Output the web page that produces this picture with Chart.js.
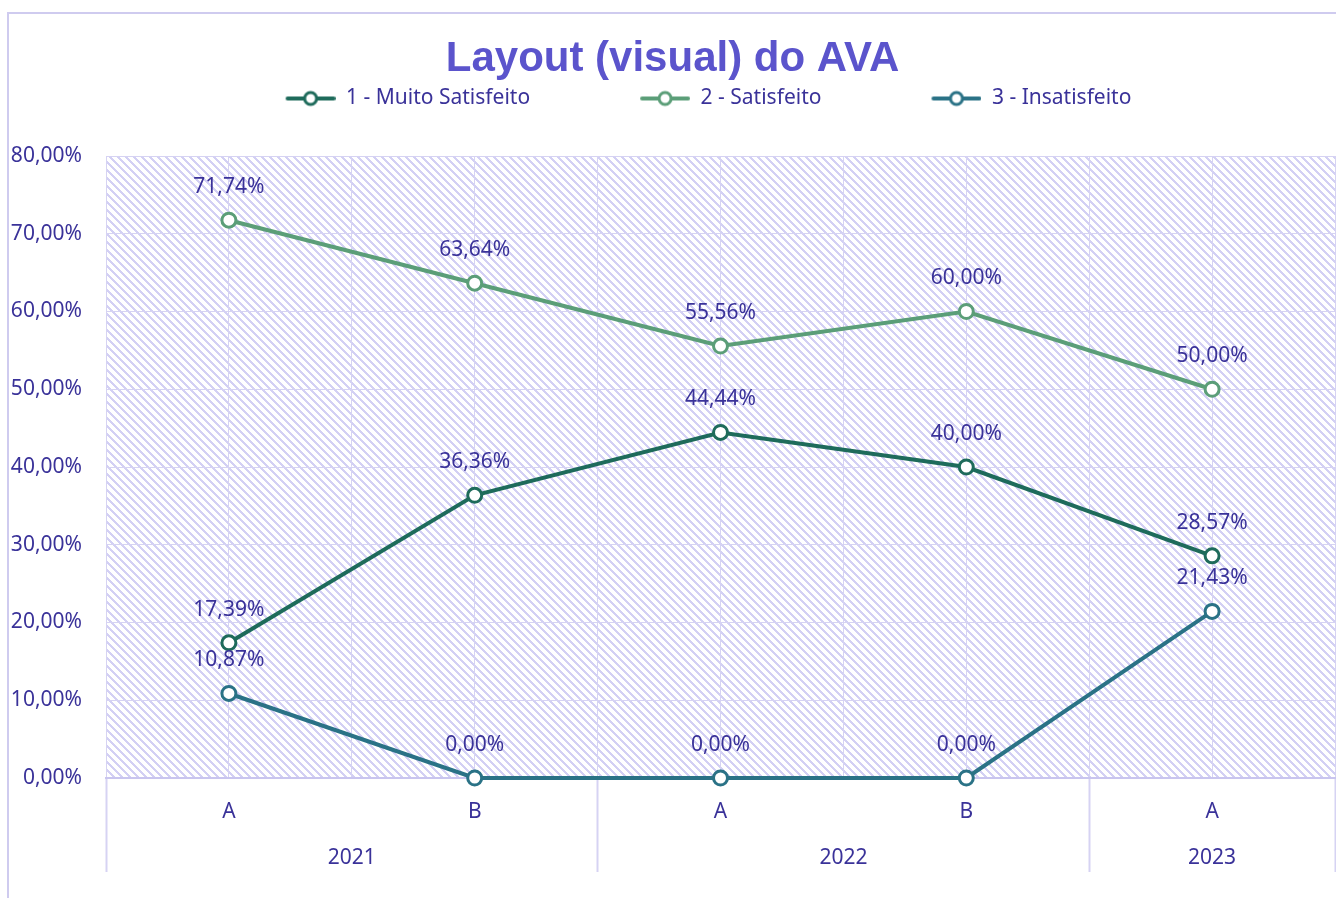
<!DOCTYPE html>
<html>
<head>
<meta charset="utf-8">
<script src="https://cdn.jsdelivr.net/npm/chart.js@4.4.1/dist/chart.umd.min.js"></script>
<style>
  html, body { margin: 0; padding: 0; background: #fff; }
  #wrap { width: 1336px; height: 898px; }
</style>
</head>
<body>
<div id="wrap"><canvas id="chart" width="1336" height="898"></canvas></div>
<script>
// --- data ---
const periods = ["A", "B", "A", "B", "A"];
const years = ["2021", "2022", "2023"];
const yearSpans = [2, 2, 1];

const seriesNames = ["1 - Muito Satisfeito", "2 - Satisfeito", "3 - Insatisfeito"];
const muitoSatisfeito = [17.39, 36.36, 44.44, 40.00, 28.57];
const satisfeito = [71.74, 63.64, 55.56, 60.00, 50.00];
const insatisfeito = [10.87, 0.00, 0.00, 0.00, 21.43];

const yTicks = [0, 10, 20, 30, 40, 50, 60, 70, 80];

const colors = ["#1e6b5b", "#5b9e78", "#2a7286"];
const textColor = "#3a3299";
const gridColor = "#d6d3f3";
const font = "'Noto Sans', sans-serif";

const $ = (id) => document.getElementById(id);

const pct = (v) => v.toFixed(2).replace(".", ",") + "%";

// tick positions on the x axis: category centres and the half steps between them
const halfSteps = [];
for (let i = 0; i <= periods.length; i++) {
  halfSteps.push(i - 0.5);
  if (i < periods.length) halfSteps.push(i);
}

// where the year groups start/end and their centres
const yearEdges = [-0.5];
const yearCenters = [];
yearSpans.forEach((span) => {
  const start = yearEdges[yearEdges.length - 1];
  yearCenters.push(start + span / 2);
  yearEdges.push(start + span);
});

const ICON_W = 122;

function legendIcon(color) {
  const c = document.createElement("canvas");
  c.width = ICON_W;
  c.height = 18;
  const g = c.getContext("2d");
  g.strokeStyle = color;
  g.lineWidth = 4;
  g.lineCap = "round";
  g.beginPath();
  g.moveTo(ICON_W - 48, 9);
  g.lineTo(ICON_W - 2, 9);
  g.stroke();
  g.fillStyle = "#fff";
  g.lineWidth = 3;
  g.beginPath();
  g.arc(ICON_W - 25, 9, 6, 0, Math.PI * 2);
  g.fill();
  g.stroke();
  return c;
}

function hatchPattern(ctx) {
  const c = document.createElement("canvas");
  c.width = 8;
  c.height = 8;
  const g = c.getContext("2d");
  g.fillStyle = "#fff";
  g.fillRect(0, 0, 8, 8);
  g.fillStyle = "#d3d0f4";
  for (let y = 0; y < 8; y++) {
    for (let x = 0; x < 8; x++) {
      if ((((x - y) % 8) + 8) % 8 < 3) g.fillRect(x, y, 1, 1);
    }
  }
  return ctx.createPattern(c, "repeat");
}

const background = {
  id: "background",
  beforeDraw(chart) {
    const { ctx, chartArea: a } = chart;
    ctx.save();
    ctx.fillStyle = "#fff";
    ctx.fillRect(0, 0, chart.width, chart.height);
    ctx.strokeStyle = "#cfcbef";
    ctx.lineWidth = 2;
    ctx.strokeRect(8, 13, chart.width + 20, chart.height + 20);
    ctx.fillStyle = hatchPattern(ctx);
    ctx.fillRect(a.left, a.top, a.right - a.left, a.bottom - a.top);
    ctx.restore();
  }
};

const legendGap = {
  id: "legendGap",
  afterInit(chart) {
    const fit = chart.legend.fit;
    chart.legend.fit = function () {
      fit.call(this);
      this.height += 37;
    };
  }
};

const valueLabels = {
  id: "valueLabels",
  afterDatasetsDraw(chart) {
    const { ctx } = chart;
    ctx.save();
    ctx.font = "21px " + font;
    ctx.fillStyle = textColor;
    ctx.textAlign = "center";
    ctx.textBaseline = "middle";
    chart.data.datasets.forEach((ds, i) => {
      chart.getDatasetMeta(i).data.forEach((pt, j) => {
        ctx.fillText(pct(ds.data[j].y), pt.x, pt.y - 33);
      });
    });
    ctx.restore();
  }
};

const toPoints = (arr) => arr.map((v, i) => ({ x: i, y: v }));

const datasets = [muitoSatisfeito, satisfeito, insatisfeito].map((values, i) => ({
  label: seriesNames[i],
  data: toPoints(values),
  borderColor: colors[i],
  backgroundColor: colors[i],
  pointBackgroundColor: "#fff",
  pointBorderColor: colors[i],
  pointBorderWidth: 3,
  pointRadius: 7,
  pointHoverRadius: 7,
  borderWidth: 4,
  tension: 0,
  clip: 12
}));

const icons = colors.map(legendIcon);

const noSidePadding = (scale) => {
  scale.paddingLeft = 0;
  scale.paddingRight = 0;
};

new Chart($("chart"), {
  type: "line",
  data: { datasets },
  plugins: [background, legendGap, valueLabels],
  options: {
    responsive: false,
    animation: false,
    events: [],
    layout: { autoPadding: false, padding: { left: 10, right: 1, top: 12, bottom: 25 } },
    plugins: {
      tooltip: { enabled: false },
      title: {
        display: true,
        text: "Layout (visual) do AVA",
        color: "#5b54cc",
        font: { family: "'Liberation Sans', Arial, sans-serif", size: 42, weight: "bold", lineHeight: 1 },
        padding: { top: 26, bottom: -30 }
      },
      legend: {
        display: true,
        position: "top",
        labels: {
          color: textColor,
          font: { family: font, size: 21 },
          usePointStyle: true,
          pointStyleWidth: ICON_W,
          padding: 38,
          generateLabels(chart) {
            const items = Chart.defaults.plugins.legend.labels.generateLabels(chart);
            items.forEach((item, i) => { item.pointStyle = icons[i]; });
            return items;
          }
        }
      }
    },
    scales: {
      x: {
        type: "linear",
        position: "bottom",
        min: -0.5,
        max: periods.length - 0.5,
        afterBuildTicks(scale) {
          scale.ticks = halfSteps.map((v) => ({ value: v }));
        },
        afterFit(scale) {
          scale.height = 55;
          noSidePadding(scale);
        },
        grid: {
          color: gridColor,
          lineWidth: 1,
          drawTicks: true,
          tickLength: 94,
          tickColor: (ctx) => (ctx.tick && yearEdges.includes(ctx.tick.value) ? gridColor : "rgba(0,0,0,0)"),
          tickWidth: 2
        },
        border: { display: true, color: "#c9c5ef", width: 2 },
        ticks: {
          autoSkip: false,
          maxRotation: 0,
          padding: -73,
          color: textColor,
          font: { family: font, size: 21 },
          callback: (v) => (Number.isInteger(v) ? periods[v] : "")
        }
      },
      x2: {
        type: "linear",
        position: "bottom",
        min: -0.5,
        max: periods.length - 0.5,
        afterBuildTicks(scale) {
          scale.ticks = yearCenters.map((v) => ({ value: v }));
        },
        afterFit(scale) {
          scale.height = 40;
          noSidePadding(scale);
        },
        grid: { display: false },
        border: { display: false },
        ticks: {
          autoSkip: false,
          maxRotation: 0,
          padding: 4,
          color: textColor,
          font: { family: font, size: 21 },
          callback: (v) => years[yearCenters.indexOf(v)]
        }
      },
      y: {
        min: 0,
        max: 80,
        afterBuildTicks(scale) {
          scale.ticks = yTicks.map((v) => ({ value: v }));
        },
        afterFit(scale) { scale.width = 96; },
        grid: { color: gridColor, lineWidth: 1, drawTicks: false },
        border: { display: false },
        ticks: {
          padding: 24,
          color: textColor,
          font: { family: font, size: 21 },
          callback: (v) => pct(v)
        }
      }
    }
  }
});
</script>
</body>
</html>
